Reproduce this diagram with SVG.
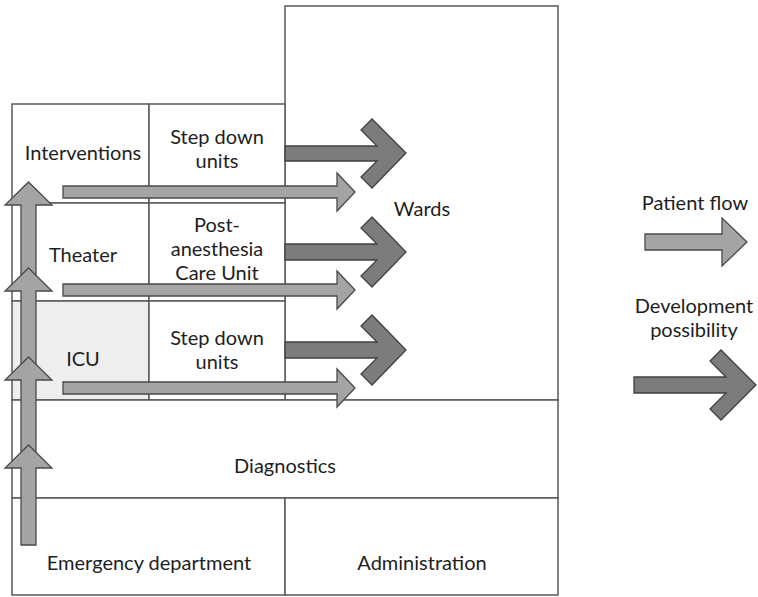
<svg xmlns="http://www.w3.org/2000/svg" width="758" height="597" viewBox="0 0 758 597">
<style>
.box{fill:#ffffff;stroke:#5a5a5a;stroke-width:1.5}
.icu{fill:#eeeeee;stroke:#5a5a5a;stroke-width:1.5}
.pf{fill:#a4a4a4;stroke:#4a4a4a;stroke-width:1.3;stroke-linejoin:miter}
.dp{fill:#7c7c7c;stroke:#404040;stroke-width:1.3;stroke-linejoin:miter}
text{font-family:Lato,"Open Sans","Liberation Sans",sans-serif;font-size:20px;fill:#1e1e1e;text-anchor:middle}
</style>
<rect width="758" height="597" fill="#ffffff"/>
<g id="wards"><rect class="box" x="285" y="6" width="273" height="394"/><text x="422" y="216">Wards</text></g>
<g id="interventions"><rect class="box" x="12" y="104" width="137" height="99"/><text x="83" y="160">Interventions</text></g>
<g id="stepdown1"><rect class="box" x="149" y="104" width="136" height="99"/><text x="217" y="144">Step down</text><text x="217" y="168">units</text></g>
<g id="theater"><rect class="box" x="12" y="203" width="137" height="98"/><text x="83" y="262">Theater</text></g>
<g id="pacu"><rect class="box" x="149" y="203" width="136" height="98"/><text x="217" y="232">Post-</text><text x="217" y="256">anesthesia</text><text x="217" y="280">Care Unit</text></g>
<g id="icu"><rect class="icu" x="12" y="301" width="137" height="99"/><text x="83" y="366">ICU</text></g>
<g id="stepdown2"><rect class="box" x="149" y="301" width="136" height="99"/><text x="217" y="345">Step down</text><text x="217" y="369">units</text></g>
<g id="diagnostics"><rect class="box" x="12" y="400" width="546" height="98"/><text x="285" y="473">Diagnostics</text></g>
<g id="emergency"><rect class="box" x="12" y="498" width="273" height="97"/><text x="149" y="570">Emergency department</text></g>
<g id="administration"><rect class="box" x="285" y="498" width="273" height="97"/><text x="422" y="570">Administration</text></g>
<g id="connectors">
<polygon class="dp" points="285,146 377,146 361,130 372,119 406,153 372,188 361,177 377,161 285,161"/>
<polygon class="dp" points="285,244 377,244 361,228 372,217 406,252 372,287 361,276 377,260 285,260"/>
<polygon class="dp" points="285,342 377,342 361,326 372,315 406,350 372,385 361,374 377,358 285,358"/>
<polygon class="pf" points="63,186 337,186 337,173 355,192 337,211 337,198 63,198"/>
<polygon class="pf" points="63,284 337,284 337,271 355,290 337,309 337,296 63,296"/>
<polygon class="pf" points="63,382 337,382 337,369 355,388 337,407 337,394 63,394"/>
<polygon class="pf" points="21,289 21,205 5,205 28.5,182 52,205 36,205 36,289"/>
<polygon class="pf" points="21,378 21,291 5,291 28.5,268 52,291 36,291 36,378"/>
<polygon class="pf" points="21,466 21,380 5,380 28.5,357 52,380 36,380 36,466"/>
<polygon class="pf" points="21,545 21,468 5,468 28.5,445 52,468 36,468 36,545"/>
</g>
<g id="legend">
<text x="695" y="210">Patient flow</text>
<polygon class="pf" points="645,234 722,234 722,218 747,242 722,266 722,250 645,250"/>
<text x="694" y="313">Development</text>
<text x="694" y="337">possibility</text>
<polygon class="dp" points="634,377 726,377 710,361 721,350 756,385 721,420 710,409 726,393 634,393"/>
</g>
</svg>
